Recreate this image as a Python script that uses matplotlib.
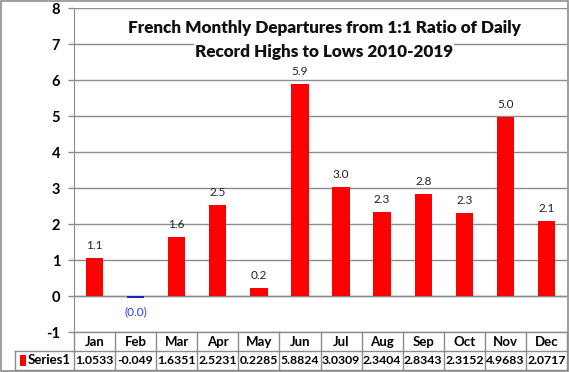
import matplotlib
matplotlib.use("Agg")
import matplotlib.pyplot as plt
from matplotlib.lines import Line2D
from matplotlib.patches import Rectangle

months = ["Jan", "Feb", "Mar", "Apr", "May", "Jun", "Jul", "Aug", "Sep", "Oct", "Nov", "Dec"]
values = [1.0533, -0.049, 1.6351, 2.5231, 0.2285, 5.8824, 3.0309, 2.3404, 2.8343, 2.3152, 4.9683, 2.0717]
series_name = "Series1"
title_lines = ["French Monthly Departures from 1:1 Ratio of Daily",
               "Record Highs to Lows 2010-2019"]

W, H = 569, 372
FONT = "Lato"
plt.rcParams["font.family"] = [FONT, "DejaVu Sans"]

fig = plt.figure(figsize=(W / 100, H / 100), dpi=100)
fig.patch.set_facecolor("white")

def fx(px):
    return px / W

def fy(py):
    return 1 - py / H

left, right, top, bottom = 74, 567, 8, 332
ax = fig.add_axes([fx(left), fy(bottom), fx(right) - fx(left), fy(top) - fy(bottom)])

x = list(range(len(months)))
colors = ["#FF0000" if v >= 0 else "#2020C0" for v in values]
ax.bar(x, values, width=0.42, color=colors, zorder=3)
ax.set_xlim(-0.5, len(months) - 0.5)
ax.set_ylim(-1, 8)
ax.set_yticks(range(-1, 9))
ax.set_yticklabels([str(t) for t in range(-1, 9)], fontsize=10.5, fontweight="bold", color="#000000")
ax.set_xticks([])
ax.yaxis.grid(True, color="#8C8C8C", linewidth=1, zorder=0)
ax.tick_params(axis="y", length=4, width=1, color="#8C8C8C", pad=6)
for s in ["top", "right", "bottom"]:
    ax.spines[s].set_visible(False)
ax.spines["left"].set_color("#8C8C8C")
ax.axhline(0, color="#8C8C8C", linewidth=1, zorder=2)

for xi, v in zip(x, values):
    if v >= 0:
        ax.annotate(f"{v:.1f}", (xi, v), xytext=(0, 5), textcoords="offset points",
                    ha="center", va="bottom", fontsize=8.5, color="#222222")
    else:
        ax.annotate(f"({abs(v):.1f})", (xi, v), xytext=(0, -6), textcoords="offset points",
                    ha="center", va="top", fontsize=8.5, color="#3333FF")

for ty, line in zip([33, 57], title_lines):
    fig.text(fx(324), fy(ty), line, ha="center", va="baseline", fontsize=12.3, fontweight="heavy",
             color="#111111", bbox=dict(facecolor="white", edgecolor="none", pad=1))

# data table below
gc = "#8C8C8C"
tbl_left, row1_bot, row2_bot = 15, 351, 370
cw = (right - left) / len(months)
lines = []
lines.append(((left, right), (bottom, bottom)))
lines.append(((tbl_left, right), (row1_bot, row1_bot)))
lines.append(((tbl_left, right), (row2_bot, row2_bot)))
lines.append(((tbl_left, tbl_left), (row1_bot, row2_bot)))
for i in range(len(months) + 1):
    xx = left + i * cw
    lines.append(((xx, xx), (bottom, row2_bot)))
for (xs, ys) in lines:
    fig.add_artist(Line2D([fx(v) for v in xs], [fy(v) for v in ys], color=gc, linewidth=1))

for i, (m, v) in enumerate(zip(months, values)):
    cx = left + (i + 0.5) * cw
    fig.text(fx(cx), fy((bottom + row1_bot) / 2), m, ha="center", va="center",
             fontsize=9.5, fontweight="bold")
    fig.text(fx(cx), fy((row1_bot + row2_bot) / 2), f"{v:g}", ha="center", va="center",
             fontsize=8.8, fontweight="bold")

fig.add_artist(Rectangle((fx(20), fy(366)), fx(6), fy(355) - fy(366), facecolor="#FF0000",
                         edgecolor="none", transform=fig.transFigure))
fig.text(fx(28), fy((row1_bot + row2_bot) / 2), series_name, ha="left", va="center",
         fontsize=9.5, fontweight="bold")

# outer border
fig.add_artist(Rectangle((0.001, 0.002), 0.997, 0.996, fill=False, edgecolor=gc, linewidth=1.2,
                         transform=fig.transFigure))

fig.savefig("out.png", dpi=100)
